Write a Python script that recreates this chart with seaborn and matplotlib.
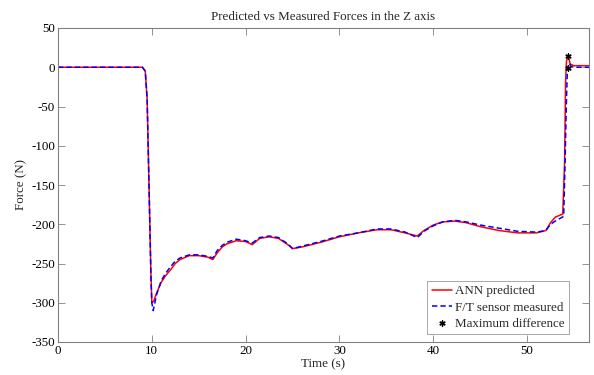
import matplotlib
matplotlib.use("Agg")
import matplotlib.pyplot as plt
import seaborn as sns
import pandas as pd

# Time knots (s) and force values (N)
t_pred = [0, 2, 4, 6, 8, 9.0, 9.3, 9.5, 9.7, 9.9, 10.0, 10.2, 10.5, 11, 11.5, 12, 12.5, 13, 14, 15, 16, 16.5,
          17, 17.5, 18, 19, 20, 20.7, 21.5, 22.5, 23.5, 24.5, 25, 26, 28, 30, 32, 34, 35.5, 37, 38.3,
          39, 40, 41, 42.3, 43.5, 45, 47, 49, 51, 52, 52.5, 53, 53.8, 54.0, 54.1, 54.2, 54.4, 54.6, 55, 56.6]
f_pred = [0, 0, 0, 0, 0, 0, -5, -40, -150, -260, -300, -298, -288, -274, -265, -258, -250, -245, -240, -240, -242, -245,
          -236, -229, -225, -221, -222, -226, -218, -216, -218, -226, -231, -229, -223, -216, -211, -207, -207, -211, -215,
          -208, -201, -197, -196, -198, -203, -208, -211, -211, -208, -198, -191, -187, -120, -20, 8, 14, 4, 2, 2]

t_meas = [0, 2, 4, 6, 8, 9.0, 9.3, 9.5, 9.7, 9.9, 10.0, 10.15, 10.5, 11, 11.5, 12, 12.5, 13, 14, 15, 16, 16.5,
          17, 17.5, 18, 19, 20, 20.7, 21.5, 22.5, 23.5, 24.5, 25, 26, 28, 30, 32, 34, 35.5, 37, 38.3,
          39, 40, 41, 42.3, 43.5, 45, 47, 49, 51, 52, 52.5, 53, 53.9, 54.05, 54.2, 54.3, 54.5, 54.7, 55, 56.6]
f_meas = [0, 0, 0, 0, 0, 0, -5, -40, -150, -265, -300, -310, -290, -272, -262, -254, -247, -243, -239, -239, -241, -243,
          -233, -227, -223, -219, -221, -224, -217, -215, -217, -225, -231, -228, -222, -215, -211, -206, -206, -210, -217,
          -209, -202, -197, -195, -197, -201, -205, -209, -210, -208, -200, -196, -190, -120, -40, -1, 5, 1, 0, 0]

t_maxdiff = [54.4, 54.4]
f_maxdiff = [14, -1]

df_pred = pd.DataFrame({"t": t_pred, "f": f_pred})
df_meas = pd.DataFrame({"t": t_meas, "f": f_meas})
df_max = pd.DataFrame({"t": t_maxdiff, "f": f_maxdiff})

sns.set_style("ticks")
plt.rcParams['font.family'] = ['Liberation Serif', 'DejaVu Serif']
plt.rcParams['axes.unicode_minus'] = False

FS = 9.4
fig, ax = plt.subplots(figsize=(5.94, 3.75), dpi=100)
fig.subplots_adjust(left=58/594, right=589/594, top=1-28/375, bottom=1-342/375)

sns.lineplot(data=df_pred, x="t", y="f", ax=ax, color="red", lw=1.1, label="ANN predicted", sort=False)
sns.lineplot(data=df_meas, x="t", y="f", ax=ax, color="blue", lw=1.1, label="F/T sensor measured", sort=False)
ax.lines[1].set_linestyle((0, (3.5, 2)))
sns.scatterplot(data=df_max, x="t", y="f", ax=ax, color="black", marker=(6, 2, 0), s=14, linewidth=1.0,
                label="Maximum difference", zorder=5)

ax.set_xlim(0, 56.6)
ax.set_ylim(-350, 50)
ax.set_xticks(range(0, 51, 10))
ax.set_yticks(range(-350, 51, 50))
ax.set_xlabel("Time (s)", fontsize=FS, labelpad=1)
ax.set_ylabel("Force (N)", fontsize=FS, labelpad=3)
ax.set_title("Predicted vs Measured Forces in the Z axis", fontsize=FS, pad=6)

for s in ax.spines.values():
    s.set_color("#808080")
    s.set_linewidth(0.8)
ax.tick_params(direction="in", top=True, right=True, length=5, width=0.6, color="#808080",
               labelsize=FS, labelcolor="black", pad=2)

leg = ax.legend(loc="lower right", bbox_to_anchor=(0.962, 0.025), borderaxespad=0, fontsize=FS,
                frameon=True, fancybox=False, borderpad=0.35, labelspacing=0.3, handlelength=1.55,
                handletextpad=0.2)
leg.get_frame().set_edgecolor("#808080")
leg.get_frame().set_linewidth(0.6)

fig.savefig("out.png", dpi=100)
